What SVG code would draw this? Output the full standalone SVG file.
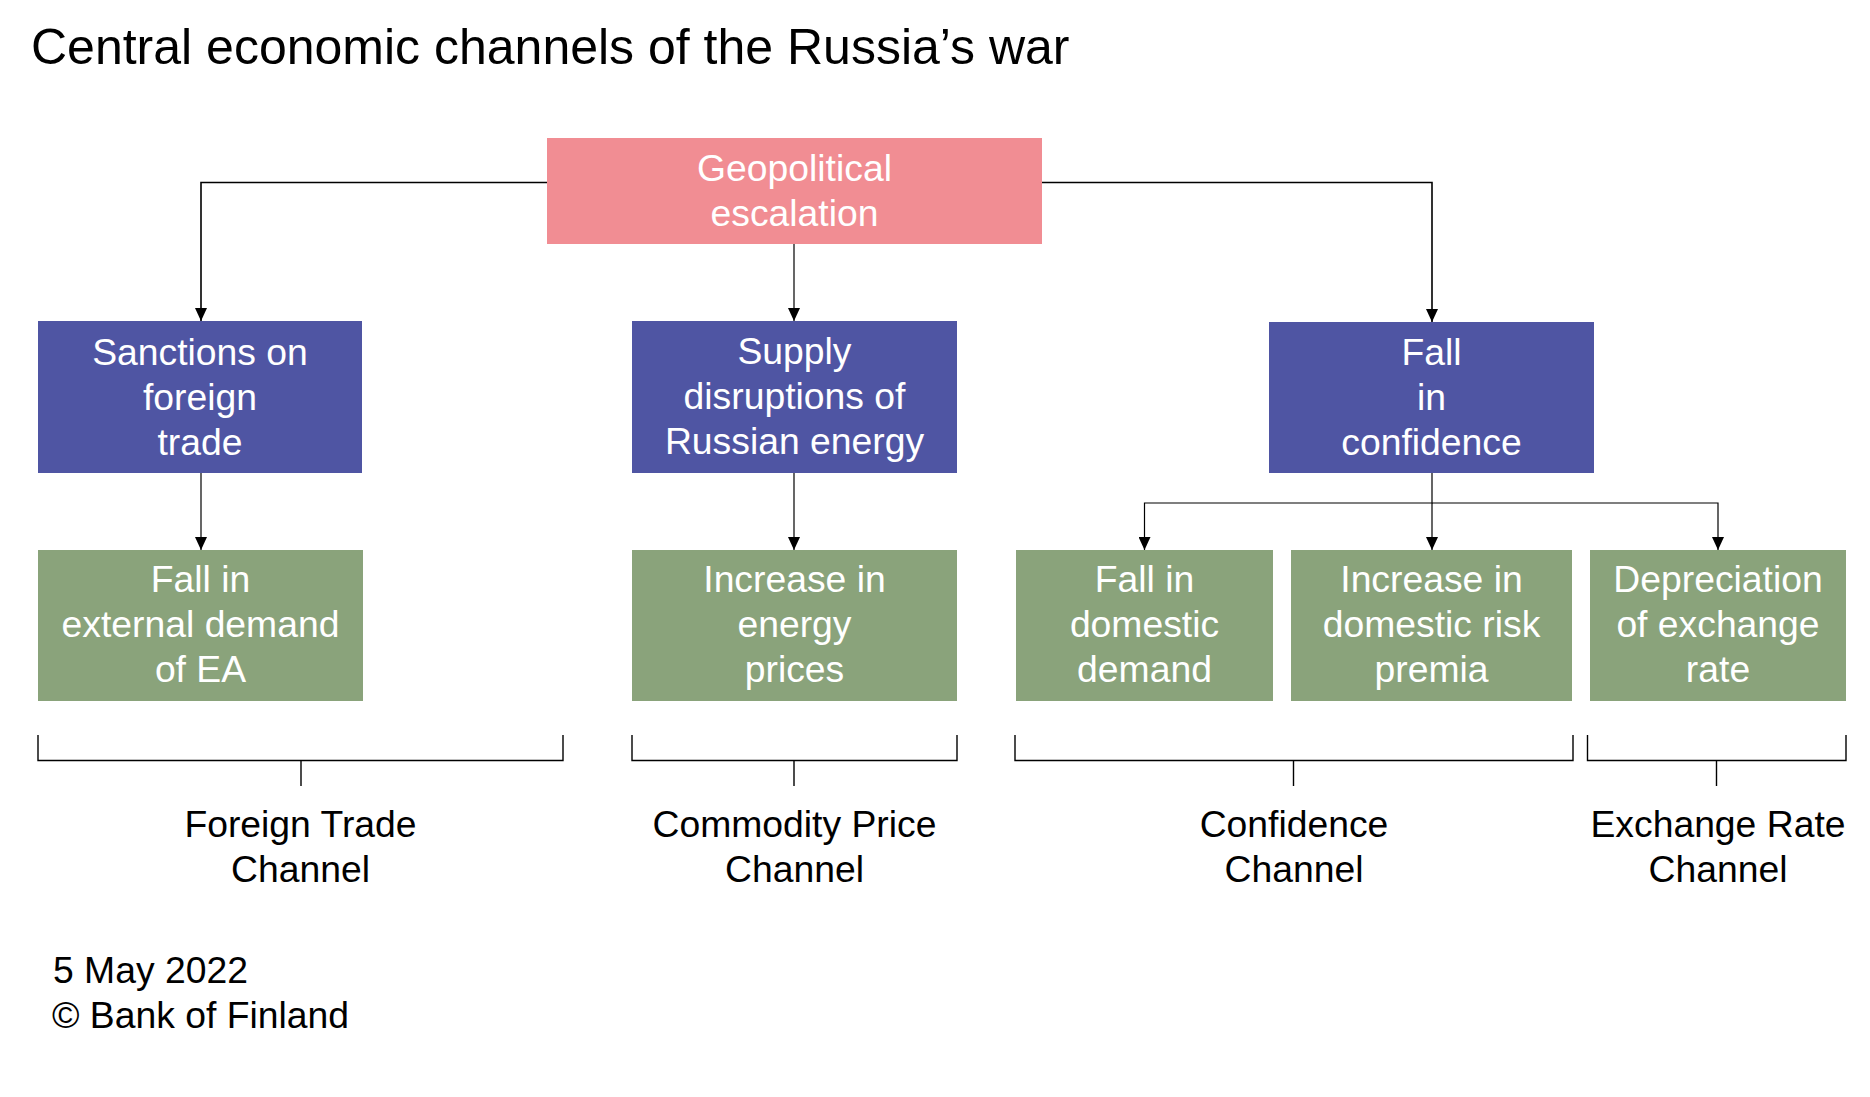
<svg xmlns="http://www.w3.org/2000/svg" width="1870" height="1097" viewBox="0 0 1870 1097">
<style>
.t{font-family:"Liberation Sans",Arial,sans-serif;text-anchor:middle}
.w{fill:#ffffff;font-size:37.3px}
.k{fill:#000000;font-size:37.3px}
.pink{fill:#F18D93}
.blue{fill:#4F55A3}
.green{fill:#8AA37B}
.c{fill:none;stroke:#000;stroke-width:1.2}
.b{fill:none;stroke:#000;stroke-width:1.4}
.f{font-family:"Liberation Sans",Arial,sans-serif;font-size:37.3px;fill:#000}
</style>
<defs>
<marker id="ah" markerUnits="userSpaceOnUse" markerWidth="13" markerHeight="12" refX="13" refY="6" orient="auto" viewBox="0 0 13 12">
<path d="M0,0 L13,6 L0,12 Z" fill="#000"/>
</marker>
</defs>
<rect width="1870" height="1097" fill="#fff"/>
<text x="31" y="64" style="font-family:'Liberation Sans',Arial,sans-serif;font-size:50px" fill="#000">Central economic channels of the Russia’s war</text>

<g id="connectors">
<path class="c" d="M547,182.5 H201 V321" style="stroke-width:1.6" marker-end="url(#ah)"/>
<path class="c" d="M1042,182.5 H1432 V322" style="stroke-width:1.6" marker-end="url(#ah)"/>
<path class="c" d="M794,244 V321" marker-end="url(#ah)"/>
<path class="c" d="M201,473 V550" marker-end="url(#ah)"/>
<path class="c" d="M794,473 V550" marker-end="url(#ah)"/>
<path class="c" d="M1432,473 V503 H1144.5 V550" marker-end="url(#ah)"/>
<path class="c" d="M1432,503 V550" marker-end="url(#ah)"/>
<path class="c" d="M1432,503 H1718 V550" marker-end="url(#ah)"/>
</g>

<g id="geopolitical">
<rect class="pink" x="547" y="138" width="495" height="106"/>
<text class="t w" x="794.5" y="181">Geopolitical</text>
<text class="t w" x="794.5" y="226">escalation</text>
</g>

<g id="sanctions">
<rect class="blue" x="38" y="321" width="324" height="152"/>
<text class="t w" x="200" y="365">Sanctions on</text>
<text class="t w" x="200" y="410">foreign</text>
<text class="t w" x="200" y="455">trade</text>
</g>

<g id="supply">
<rect class="blue" x="632" y="321" width="325" height="152"/>
<text class="t w" x="794.5" y="364">Supply</text>
<text class="t w" x="794.5" y="409">disruptions of</text>
<text class="t w" x="794.5" y="454">Russian energy</text>
</g>

<g id="confidence">
<rect class="blue" x="1269" y="322" width="325" height="151"/>
<text class="t w" x="1431.5" y="365">Fall</text>
<text class="t w" x="1431.5" y="410">in</text>
<text class="t w" x="1431.5" y="455">confidence</text>
</g>

<g id="external-demand">
<rect class="green" x="38" y="550" width="325" height="151"/>
<text class="t w" x="200.5" y="592">Fall in</text>
<text class="t w" x="200.5" y="637">external demand</text>
<text class="t w" x="200.5" y="682">of EA</text>
</g>

<g id="energy-prices">
<rect class="green" x="632" y="550" width="325" height="151"/>
<text class="t w" x="794.5" y="592">Increase in</text>
<text class="t w" x="794.5" y="637">energy</text>
<text class="t w" x="794.5" y="682">prices</text>
</g>

<g id="domestic-demand">
<rect class="green" x="1016" y="550" width="257" height="151"/>
<text class="t w" x="1144.5" y="592">Fall in</text>
<text class="t w" x="1144.5" y="637">domestic</text>
<text class="t w" x="1144.5" y="682">demand</text>
</g>

<g id="risk-premia">
<rect class="green" x="1291" y="550" width="281" height="151"/>
<text class="t w" x="1431.5" y="592">Increase in</text>
<text class="t w" x="1431.5" y="637">domestic risk</text>
<text class="t w" x="1431.5" y="682">premia</text>
</g>

<g id="depreciation">
<rect class="green" x="1590" y="550" width="256" height="151"/>
<text class="t w" x="1718" y="592">Depreciation</text>
<text class="t w" x="1718" y="637">of exchange</text>
<text class="t w" x="1718" y="682">rate</text>
</g>

<g id="brackets">
<path class="b" d="M38,735 V760.5 H563 V735 M301,760.5 V786"/>
<path class="b" d="M632,735 V760.5 H957 V735 M794,760.5 V786"/>
<path class="b" d="M1015,735 V760.5 H1573 V735 M1293.5,760.5 V786"/>
<path class="b" d="M1587.5,735 V760.5 H1846 V735 M1716.5,760.5 V786"/>
</g>

<g id="channel-labels">
<text class="t k" x="300.5" y="837">Foreign Trade</text>
<text class="t k" x="300.5" y="882">Channel</text>
<text class="t k" x="794.5" y="837">Commodity Price</text>
<text class="t k" x="794.5" y="882">Channel</text>
<text class="t k" x="1294" y="837">Confidence</text>
<text class="t k" x="1294" y="882">Channel</text>
<text class="t k" x="1718" y="837">Exchange Rate</text>
<text class="t k" x="1718" y="882">Channel</text>
</g>

<g id="footer">
<text class="f" x="53" y="983">5 May 2022</text>
<text class="f" x="52" y="1028">© Bank of Finland</text>
</g>
</svg>
